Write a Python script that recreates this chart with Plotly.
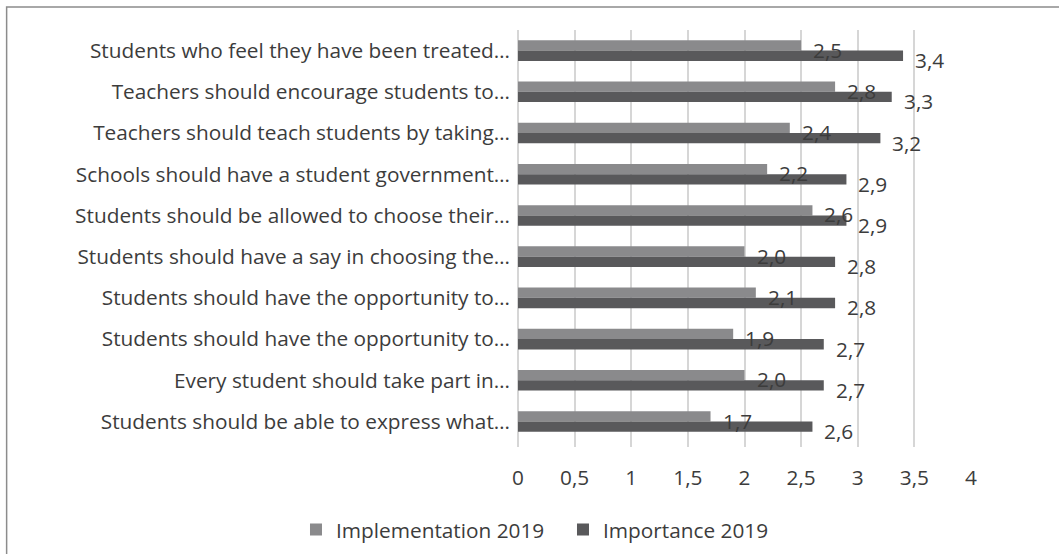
import plotly.graph_objects as go

# Survey statements (top to bottom)
statements = [
    "Students who feel they have been treated…",
    "Teachers should encourage students to…",
    "Teachers should teach students by taking…",
    "Schools should have a student government…",
    "Students should be allowed to choose their…",
    "Students should have a say in choosing the…",
    "Students should have the opportunity to…",
    "Students should have the opportunity to…",
    "Every student should take part in…",
    "Students should be able to express what…",
]

implementation_2019 = [2.5, 2.8, 2.4, 2.2, 2.6, 2.0, 2.1, 1.9, 2.0, 1.7]
importance_2019 = [3.4, 3.3, 3.2, 2.9, 2.9, 2.8, 2.8, 2.7, 2.7, 2.6]

x_ticks = [0, 0.5, 1, 1.5, 2, 2.5, 3, 3.5, 4]

FONT = "Open Sans"
FSIZE = 20.8
TEXT_COLOR = "#3c3c3c"
IMPL_COLOR = "#8a8a8c"
IMP_COLOR = "#59595b"

# row positions (two statements share the same wording, so rows are indexed)
rows = list(range(len(statements)))

fig = go.Figure()
fig.add_trace(go.Bar(
    y=rows, x=implementation_2019, orientation="h",
    name="Implementation 2019", marker=dict(color=IMPL_COLOR, line=dict(width=0)),
))
fig.add_trace(go.Bar(
    y=rows, x=importance_2019, orientation="h",
    name="Importance 2019", marker=dict(color=IMP_COLOR, line=dict(width=0)),
))


def fmt(v):
    return f"{v:.1f}".replace(".", ",")


annotations = []
for r, v in zip(rows, implementation_2019):
    annotations.append(dict(
        x=v, y=r, xref="x", yref="y", text=fmt(v), showarrow=False,
        xanchor="left", yanchor="middle", xshift=10, yshift=1.0,
        font=dict(family=FONT, size=FSIZE, color=TEXT_COLOR),
    ))
for r, v in zip(rows, importance_2019):
    annotations.append(dict(
        x=v, y=r, xref="x", yref="y", text=fmt(v), showarrow=False,
        xanchor="left", yanchor="middle", xshift=10, yshift=-9.5,
        font=dict(family=FONT, size=FSIZE, color=TEXT_COLOR),
    ))

# outer chart frame
L, R, T, B = 517.5, 971.5, 30.0, 447.0
W, H = R - L, B - T
fig.add_shape(
    type="rect", xref="paper", yref="paper",
    x0=(5 - L) / W, x1=(1075 - L) / W,
    y0=(B - 570) / H, y1=(B - 7) / H,
    line=dict(color="#8c8c8c", width=1.5), fillcolor="rgba(0,0,0,0)", layer="below",
)

fig.update_layout(
    width=1059, height=554,
    margin=dict(l=L, r=1059 - R, t=T, b=554 - B, pad=0, autoexpand=False),
    paper_bgcolor="white", plot_bgcolor="white",
    barmode="group", bargap=0.5, bargroupgap=0,
    separators=", ",
    font=dict(family=FONT, size=FSIZE, color=TEXT_COLOR),
    showlegend=True,
    legend=dict(
        orientation="h", xref="paper", yref="paper",
        x=(295 - L) / W, y=(B - 530) / H, xanchor="left", yanchor="middle",
        font=dict(family=FONT, size=FSIZE, color=TEXT_COLOR),
        itemwidth=30, tracegroupgap=0, entrywidth=222,
    ),
    annotations=annotations,
    xaxis=dict(
        range=[0, 4], tickvals=x_ticks, showgrid=True,
        gridcolor="#d6d6d6", gridwidth=1.5,
        zeroline=True, zerolinecolor="#d6d6d6", zerolinewidth=1.5,
        showline=False, ticks="", ticklabelstandoff=16,
        tickfont=dict(family=FONT, size=FSIZE, color=TEXT_COLOR),
        fixedrange=True,
    ),
    yaxis=dict(
        autorange="reversed", tickvals=rows, ticktext=statements,
        range=[len(rows) - 0.5, -0.5],
        showgrid=False, zeroline=False,
        showline=False, ticks="", ticklabelstandoff=7,
        tickfont=dict(family=FONT, size=FSIZE, color=TEXT_COLOR),
        fixedrange=True,
    ),
)

fig.write_html("out.html")
